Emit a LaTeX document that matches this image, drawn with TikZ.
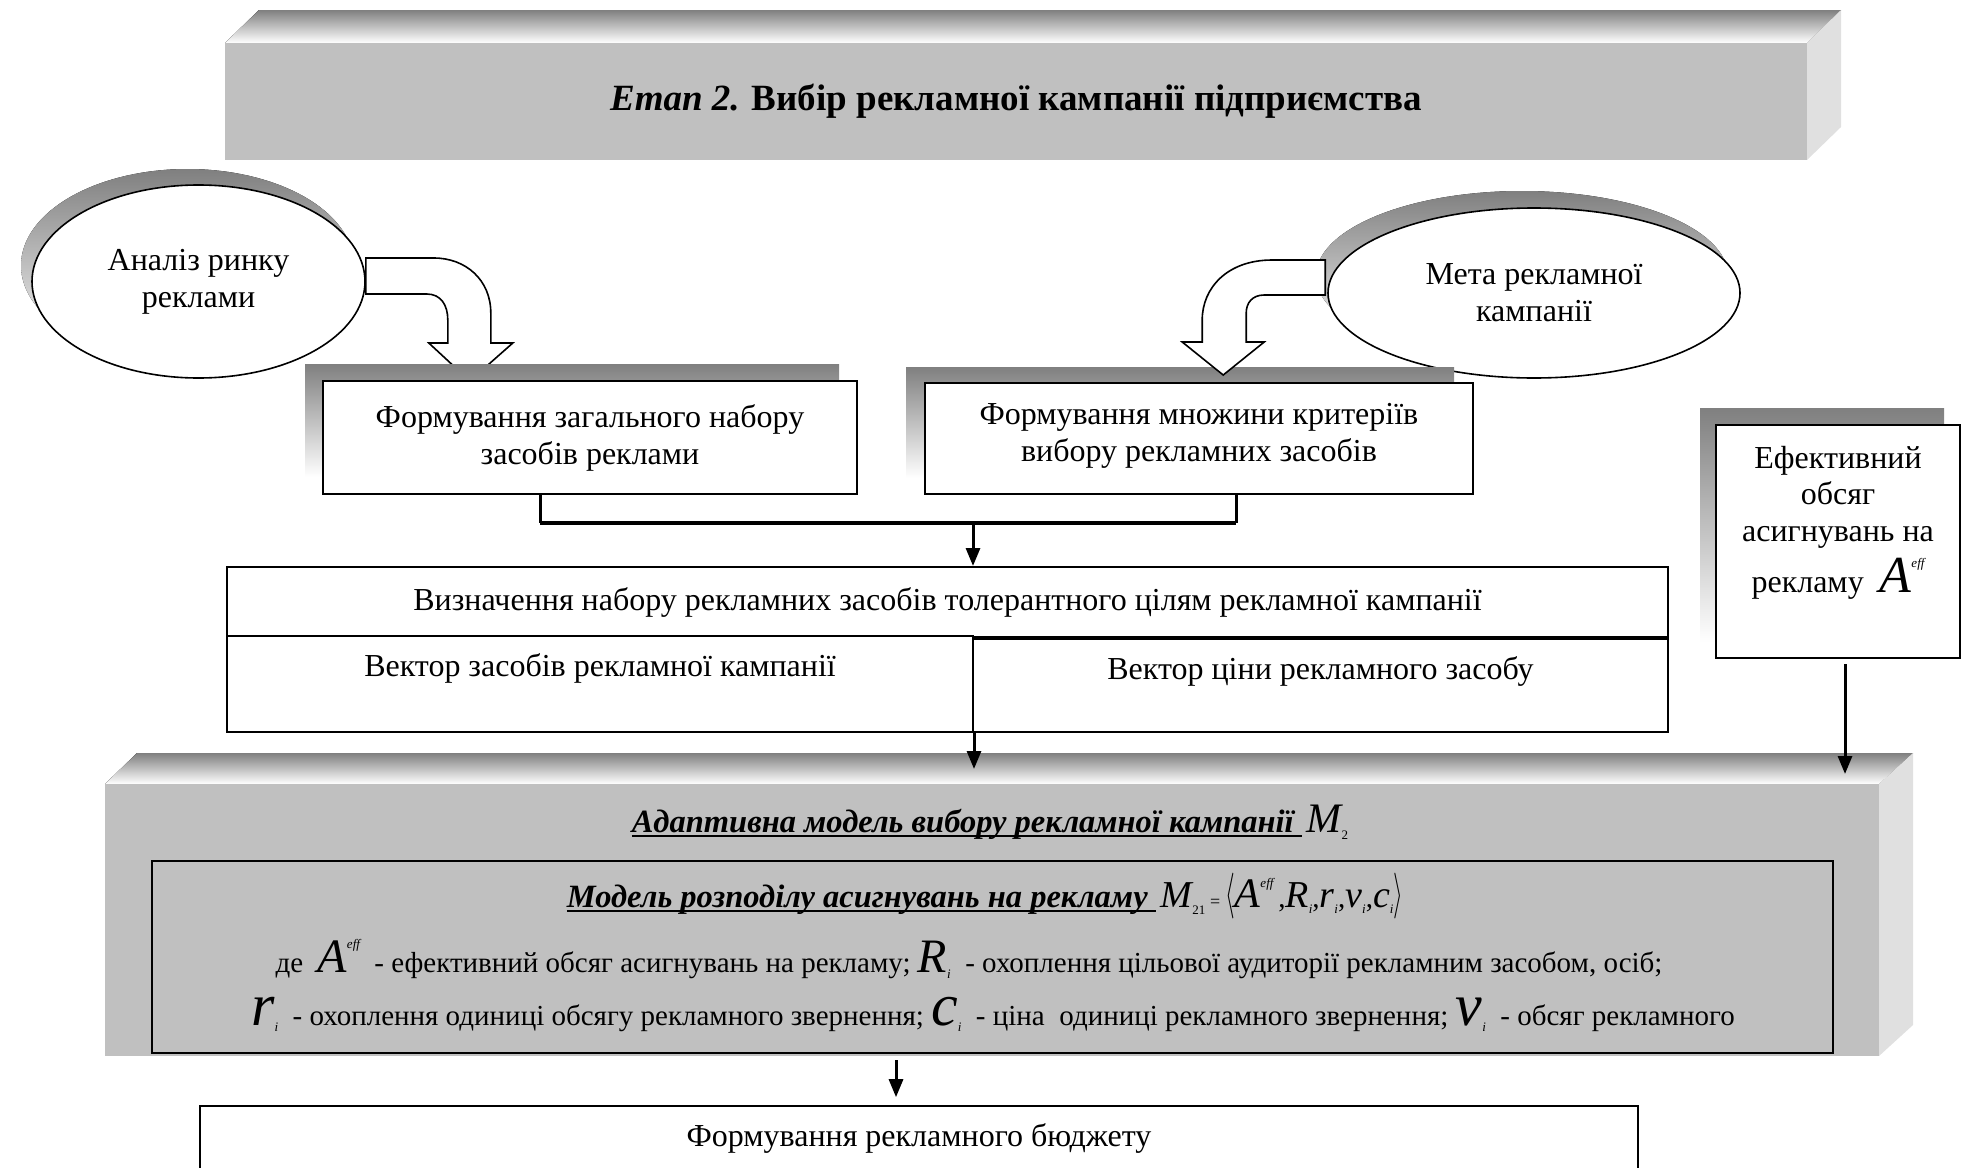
\documentclass[tikz,border=0pt]{standalone}
\usepackage{fontspec}
\setmainfont{Liberation Serif}[
  BoldFont={Liberation Serif Bold},
  ItalicFont={Liberation Serif Italic},
  BoldItalicFont={Liberation Serif Bold Italic}]
\usetikzlibrary{shapes.geometric,arrows.meta,calc}

\definecolor{shade}{HTML}{999999}
\definecolor{face}{HTML}{C0C0C0}
\definecolor{sideface}{HTML}{E0E0E0}

\newcommand\bodysize{\fontsize{32}{37}\selectfont}
\newcommand\modelsize{\fontsize{29}{34}\selectfont}
% large italic symbol and its small index
\newcommand\bigit[2]{{\fontsize{#1}{#1}\selectfont\itshape #2}}
\newcommand\idx[2]{\raisebox{#1}{\fontsize{13}{13}\selectfont\itshape #2}}
% tall angle brackets of the tuple
\newcommand\tallangle[1]{{\fontsize{25}{25}\selectfont\scalebox{1}[1.84]{$#1$}}}
% bold underline of a phrase
\newcommand\thickul[1]{\setbox0\hbox{#1}\rlap{\rule[-5pt]{\wd0}{2.5pt}}\box0}
\newcommand\headfont{\fontsize{32.5}{36}\selectfont\bfseries\itshape}

\begin{document}
\begin{tikzpicture}[x=1pt,y=-1pt,
  box/.style={draw, line width=2pt, fill=white, inner sep=0pt, align=center, font=\bodysize},
  oval/.style={ellipse, draw, line width=1.6pt, fill=white, inner sep=0pt, align=center, font=\bodysize},
  conn/.style={line width=3pt},
  arr/.style={line width=3pt, -{Triangle[length=18pt,width=14pt]}},
  blockarrow/.style={draw, line width=1.6pt, fill=white, line join=miter},
  txt/.style={font=\modelsize, inner sep=0pt, anchor=base}
]
\useasboundingbox (0,0) rectangle (1961,1167);
\clip (0,0) rectangle (1961,1167);

% ---- stage banner (bevelled block) ----
\fill[shade] (225,43) -- (259,10) -- (1841,10) -- (1807,43) -- cycle;
\fill[sideface] (1807,43) -- (1841,10) -- (1841,127) -- (1807,160) -- cycle;
\node[fill=face, minimum width=1582pt, minimum height=117pt, inner sep=0pt,
      font=\fontsize{37}{37}\selectfont\bfseries] (stage) at (1016,101.5)
  {\textit{Етап 2.} Вибір рекламної кампанії підприємства};

% ---- input ellipses with shadows ----
\fill[shade] (187.5,265.5) ellipse [x radius=166.5, y radius=96.5];
\node[oval, minimum width=333pt, minimum height=193pt] (market) at (198.5,281.5)
  {Аналіз ринку\\реклами};
\fill[shade] (1522,276) ellipse [x radius=206, y radius=85];
\node[oval, minimum width=412pt, minimum height=170pt] (goal) at (1534,293)
  {Мета рекламної\\кампанії};

% ---- bent block arrows ----
\begin{scope}[shift={(market.east)}]
\path[blockarrow] (0,-23.5) -- (68,-23.5) .. controls (100,-23.5) and (125,-1.5) .. (125,31.5)
  -- (125,61.5) -- (147,61.5) -- (104,99.5) -- (63,61.5) -- (82,61.5) -- (82,38.5)
  .. controls (82,23.5) and (75,12.5) .. (61,12.5) -- (0,12.5) -- cycle;
\end{scope}

% ---- shadowed boxes ----
\fill[shade] (305,364) rectangle ++(534,113);
\node[box, minimum width=534pt, minimum height=113pt] (gen) at (590,437.5)
  {Формування загального набору\\засобів реклами};
\fill[shade] (906,367) rectangle ++(548,111);
\node[box, minimum width=548pt, minimum height=111pt] (crit) at (1199,438.5)
  {Формування множини критеріїв\\вибору рекламних засобів\rule[-12pt]{0pt}{12pt}};

\begin{scope}[shift={(goal.west)}]
\path[blockarrow] (-2,-33) -- (-55,-33) .. controls (-100,-33) and (-125,-5) .. (-125,27)
  -- (-125,49) -- (-145,49) -- (-104,82) -- (-63,49) -- (-81,49) -- (-81,20)
  .. controls (-81,10) and (-75,2) .. (-63,2) -- (-2,2) -- cycle;
\end{scope}

\fill[shade] (1700,408) rectangle ++(244,234);
\node[box, minimum width=244pt, minimum height=233pt] (eff) at (1838,541.5)
  {\parbox[c][229pt][t]{240pt}{\fontsize{32}{36.5}\selectfont\centering\vspace*{19pt}
   Ефективний\\обсяг\\асигнувань на\\[9pt]рекламу \ \bigit{52}{A}\idx{25pt}{eff}}};

% ---- merging connector ----
\draw[conn] ([xshift=-50pt]gen.south) -- ++(0,28) coordinate (jl);
\draw[conn] ([xshift=37pt]crit.south) -- ++(0,28) coordinate (jr);
\draw[line width=4.5pt] (jl) -- (jr);
\coordinate (jm) at (973,522);

% ---- tolerant media set ----
\node[box, minimum width=1441pt, minimum height=70pt] (tol) at (947.5,602)
  {Визначення набору рекламних засобів толерантного цілям рекламної кампанії};
\node[box, minimum width=746pt, minimum height=96pt, text height=40pt, text depth=56pt]
  (vmedia) at (600,684) {Вектор засобів рекламної кампанії};
\node[box, minimum width=695pt, minimum height=93pt, text height=40pt, text depth=53pt]
  (vprice) at (1320.5,685.5) {Вектор ціни рекламного засобу};
\draw[arr] (jm) -- (jm |- tol.north);

% ---- adaptive model block ----
\fill[shade] (105,784) -- (137,753) -- (1913,753) -- (1879,784) -- cycle;
\fill[sideface] (1879,784) -- (1913,753) -- (1913,1025) -- (1879,1056) -- cycle;
\node[fill=face, minimum width=1774pt, minimum height=272pt, inner sep=0pt] (model) at (992,920) {};
\node[draw, line width=2pt, fill=face, minimum width=1681pt, minimum height=192pt, inner sep=0pt]
  (alloc) at (992.5,957) {};

\draw[arr] (vmedia.south east) -- ++(0,36);
\draw[arr] ([xshift=7pt,yshift=-5pt]eff.south) -- ++(0,110);

\node[txt] (mtitle) at (990,832)
  {\thickul{\headfont Адаптивна модель вибору рекламної кампанії\ }\,\bigit{42}{M}\idx{-7pt}{\upshape 2}};
\node[txt] (mform) at (985,907)
  {\thickul{\headfont Модель розподілу асигнувань на рекламу\ }\,\bigit{38}{M}\idx{-7pt}{\upshape 21}\,{\fontsize{18}{18}\selectfont =}\,%
   \tallangle{\langle}\bigit{42}{A}\idx{20pt}{eff}\,,\bigit{38}{R}\idx{-6pt}{i},\bigit{38}{r}\idx{-6pt}{i},\bigit{38}{v}\idx{-6pt}{i},\bigit{38}{c}\idx{-6pt}{i}\tallangle{\rangle}};
\node[txt] (mline1) at (969,972)
  {де \ \bigit{48}{A}\idx{24pt}{eff} \ - ефективний обсяг асигнувань на рекламу; \bigit{48}{R}\idx{-6pt}{i} \ - охоплення цільової аудиторії рекламним засобом, осіб;};
\node[txt] (mline2) at (993,1025)
  {\bigit{60}{r}\idx{-6pt}{i} \ - охоплення одиниці обсягу рекламного звернення; \bigit{60}{c}\idx{-6pt}{i} \ - ціна\ \ одиниці рекламного звернення; \bigit{60}{v}\idx{-6pt}{i} \ - обсяг рекламного};

% ---- advertising budget ----
\draw[arr] ([xshift=-96pt,yshift=-4pt]model.south) -- ++(0,37);
\node[box, minimum width=1438pt, minimum height=120pt, text height=40pt, text depth=80pt]
  (budget) at (919,1166) {Формування рекламного бюджету};
\end{tikzpicture}
\end{document}
